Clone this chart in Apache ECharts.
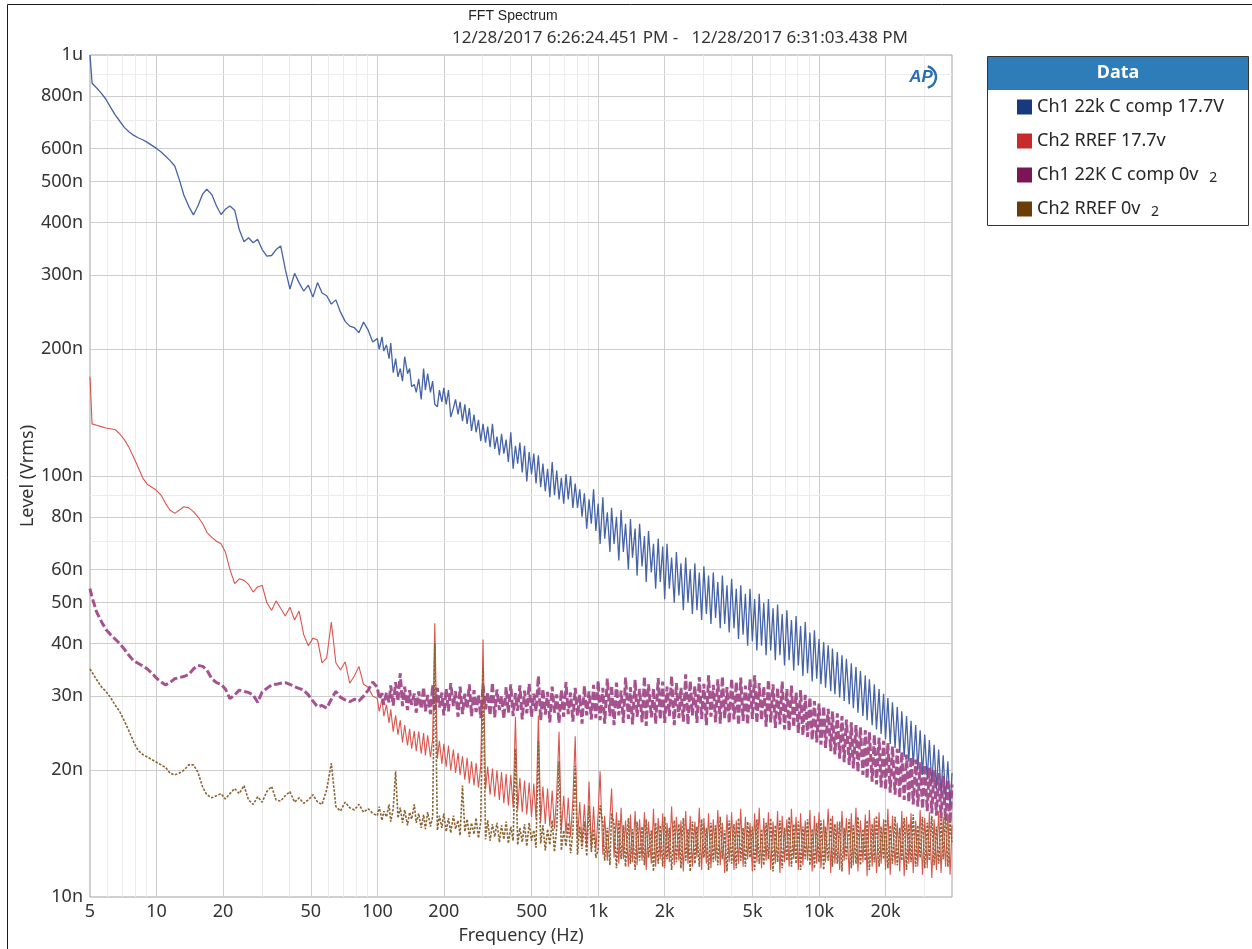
<!DOCTYPE html>
<html><head><meta charset="utf-8">
<script src="https://cdn.jsdelivr.net/npm/echarts@6/dist/echarts.min.js"></script>
<style>html,body{margin:0;padding:0;background:#fff}#c{width:1252px;height:949px}</style>
</head><body><div id="c"></div>
<script>
// ---------- frequency grid (Hz) ----------
const freqLow = [5,5.11,5.36,5.62,5.9,6.19,6.49,6.81,7.15,7.5,7.87,8.25,8.66,9.09,9.53,10,10.5,11,11.5,12.1,12.7,13.3,14,14.7,15.4,16.2,16.9,17.8,18.7,19.6,20.5,21.5,22.6,23.7,24.9,26.1,27.4,28.7,30.1,31.6,33.2,34.8,36.5,38.3,40.2,42.2,44.2,46.4,48.7,51.1,53.6,56.2,59,61.9,64.9,68.1,71.5,75,78.7,82.5,86.6,90.9,95.3];
const freqMid = [100,102,105,107,110,113,115,118,121,124,127,130,133,137,140,143,147,150,154,158,162,165,169,174,178,182,187,191,196,200,205,210,215,221,226,232,237,243,249,255,261,267,274,280,287,294,301,309,316,324,332,340,348,357,365,374,383,392,402,412,422,432,442,453,464,475,487,499,511,523,536,549,562,576,590,604,619,634,649,665,681,698,715,732,750,768,787,806,825,845,866,887,909,931,953,976];
const freqHigh = [1000,1020,1050,1070,1100,1130,1150,1180,1210,1240,1270,1300,1330,1370,1400,1430,1470,1500,1540,1580,1620,1650,1690,1740,1780,1820,1870,1910,1960,2000,2050,2100,2150,2210,2260,2320,2370,2430,2490,2550,2610,2670,2740,2800,2870,2940,3010,3090,3160,3240,3320,3400,3480,3570,3650,3740,3830,3920,4020,4120,4220,4320,4420,4530,4640,4750,4870,4990,5110,5230,5360,5490,5620,5760,5900,6040,6190,6340,6490,6650,6810,6980,7150,7320,7500,7680,7870,8060,8250,8450,8660,8870,9090,9310,9530,9760];
const freqTop = [10000,10200,10500,10700,11000,11300,11500,11800,12100,12400,12700,13000,13300,13700,14000,14300,14700,15000,15400,15800,16200,16500,16900,17400,17800,18200,18700,19100,19600,20000,20500,21000,21500,22100,22600,23200,23700,24300,24900,25500,26100,26700,27400,28000,28700,29400,30100,30900,31600,32400,33200,34000,34800,35700,36500,37400,38300,39200,40000];

// ---------- Ch1 22k C comp 17.7V (nV rms) ----------
const blueLow = [1000,857,835,812,785,752,722,697,673,657,645,636,629,620,610,600,588,575,562,545,505,465,437,417,438,468,480,466,438,418,430,438,428,385,360,368,358,365,345,333,334,345,352,310,278,303,288,275,284,266,288,272,268,256,262,245,233,227,225,219,232,222,208];
const blueMid = [212,200,214,198,205,190,207,176,190,172,180,168,192,175,180,163,165,158,170,152,180,160,175,158,168,148,146,160,150,162,148,160,138,145,152,140,150,135,148,133,145,128,140,127,136,121,133,120,131,117,133,116,124,112,126,113,122,108,127,104,118,107,120,102,118,97,114,101,113,96,112,94,107,92,104,89,108,90,103,88,99,86,101,88,100,84,96,84,93,80,91,75,88,77,93,74];
const blueHigh = [86,69,89,71,82,66,84,69,80,63,83,66,77,60,79,64,75,58,77,61,72,56,74,59,69,54,71,56,68,51,69,54,64,50,66,52,62,48,64,50,60,47,62,48,59,45.5,61,47,58,44.5,59,46,56,43.5,58,44.5,55,42.5,57,43.5,54,41,55,42,52.5,39.5,54,40.5,51,38.5,52.5,39.5,50,37.5,51,38.5,48.5,36.5,49.5,37.5,47,35.5,48,36.5,45.5,34.5,46.5,35.5,44,33.5,45,34,42.5,32.5,43,33];
const blueTop = [41,32,40.3,31.4,39.6,30.8,38.9,30.3,38.2,29.8,37.5,29.2,36.8,28.7,35.9,28.1,35.2,27.4,34.4,26.9,33.6,26.3,32.9,25.6,32,25,31.2,24.4,30.4,23.7,29.7,23.1,29,22.6,28.3,22,27.6,21.5,26.9,21,26.2,20.5,25.6,20,24.9,19.5,24.3,19,23.6,18.5,23,18,22.4,17.5,21.7,17,21,16.4,19.7];

// ---------- Ch2 RREF 17.7v ----------
const redLow = [172,133,132,131,130,129.5,129,126,122,117,111,105,99,95.5,94,92.5,90,86,83,81.5,83,84.5,84,82.3,80,77,73.5,71.5,70,69,66,60,55.5,57,56.5,55.3,53,54.5,55,50,48,50.5,48.5,46.5,48.8,45.5,47.8,42,39.5,41.2,40.8,36,37,45,36,34.6,36.2,32.2,33.5,35.3,32,31.5,30];
const redMid = [29.6,27.6,29.5,26.9,28.6,25.9,27.9,24.7,27,24.3,26.3,23.3,25.6,22.9,25.1,22.5,24.8,22.2,24.7,21.9,24.5,21.7,24.2,21.5,23.7,44.7,21.3,23.5,20.7,23.1,20.4,22.9,20,22.4,19.7,22,19.5,21.6,19,21.4,18.6,21,18.4,20.8,18.2,20.5,40.9,18,20.4,17.5,20.2,17.3,20,17,19.8,16.7,19.6,16.5,19.5,16.3,26.8,16.1,19.2,15.9,18.9,15.7,18.7,15.5,18.6,15.3,27,15.1,18.3,14.9,18.1,14.7,17.9,14.5,17.6,24.7,14.3,17.4,14.1,17.2,13.9,17,24.1,13.7,16.8,13.4,16.6,13.2,18.8,13,16.4,12.9];
const redHigh = [15.8,19.9,12.6,15.6,12.2,15.4,18.1,12.4,15.9,12,16.3,12.3,15.2,11.8,15.7,12.1,16,11.9,15.3,12.2,15.9,11.6,15.1,12,16.2,11.8,15.4,12.3,15.8,11.7,15,12.1,16.4,11.9,15.5,12.2,15.2,11.5,16,12,15.6,11.8,15.1,12.4,16.3,11.6,15.4,12,15.8,11.7,15.3,12.2,16.1,11.9,15,11.4,15.7,12.1,15.9,11.6,15.2,12,16.2,11.8,15.5,12.3,15,11.5,15.8,12.1,16.3,11.7,15.4,12.2,15.9,11.6,15.1,12,16,11.4,15.6,12.1,15.3,11.8,16.2,12.3,15.5,11.6,15.8,11.9,15.2,12.2,16.1,11.5,15.6,12];
const redTop = [15.9,11.7,15.3,12.1,16.2,11.4,15.6,12,15.1,11.6,16,12.2,15.4,11.3,15.8,11.9,16.3,11.5,15.2,12.1,15.7,11.2,16.1,11.8,15.4,11.4,15.9,12,15.3,11.6,16.2,11.3,15.6,11.9,15,11.5,16,11.2,15.5,12,15.8,11.4,15.2,11.8,16.1,11.3,15.4,11.7,15.9,11.1,15.3,11.6,16,11.4,15.5,11.8,15.8,11.3,14.8];

// ---------- Ch1 22K C comp 0v (2) ----------
const purpleLow = [54,51.5,47.5,45.2,43.2,42,41,40,38.8,37.5,36.4,35.9,35.4,34.8,34,33.1,32.4,31.9,32.3,33,33.2,33.4,33.8,34.8,35.5,35.3,34.6,33,32.3,32,31.2,29.6,30.2,31,30.8,30.6,30.2,29,30.7,31.3,31.9,32,32.2,32.3,32,31.6,31.3,31,30.2,29.2,28.3,28.5,28.1,29.5,30.8,29.8,29.4,29.1,29.5,29.2,30,31,32.4];
const purpleMid = [31.5,29.5,30.5,28.6,30.6,29,31.8,28.5,32.4,29.2,34,28.4,31.6,27.8,31,28.6,30.4,27.4,30.8,28,31.5,27.6,30.2,27.2,31.9,27.8,31.4,28.2,30.6,27,31.2,27.6,32.2,28.4,30.8,26.8,31.6,27.2,30.4,28,32,26.9,31,27.5,30.2,26.6,31.8,27.9,30.6,27,32.3,26.7,31.1,27.8,30,26.5,31.5,27.4,32,26.9,30.5,27.7,31.8,26.4,30.9,27.3,32.1,26.8,30.4,27.6,33.5,26.3,31.2,27.1,30.7,26,31.6,27.4,30.3,25.9,31,26.8,32.4,27.2,30.6,26.1,31.4,26.9,30.2,25.8,31.7,27,30.8,26.4,31.9,26.6];
const purpleHigh = [32.6,26.3,31.4,25.8,33,26.9,31.8,25.6,32.3,27,30.9,25.9,33.2,26.5,31.5,25.7,32.8,26.8,31.2,26,33.4,25.5,32,26.7,31.3,25.8,33.1,26.4,32.5,25.9,31.6,26.9,33.5,25.6,32.2,26.6,31.4,26.1,33.8,25.7,32.6,27,31.7,25.9,33.3,26.5,32.1,25.6,33.6,26.8,31.9,26,32.9,25.8,33.4,26.6,31.5,25.9,33,26.4,32.4,25.6,33.2,26.2,31.8,25.7,32.9,26.5,33.6,25.9,32.2,26.3,31.6,25.4,32.8,26,32,25.2,31.4,25.7,32.5,25,31.2,24.8,31.8,25.3,30.6,24.5,31,24.2,30.2,24,29.8,23.6,29.2,23.3];
const purpleTop = [28.8,23,28.4,22.6,28,22.2,27.6,21.8,27.3,21.3,26.9,20.9,26.4,20.6,26,20.2,25.6,19.8,25.3,19.5,24.9,19.1,24.6,18.8,24.3,18.5,23.9,18.2,23.5,18,23.2,17.7,22.8,17.5,22.5,17.2,22.1,17,21.8,16.8,21.5,16.6,21.2,16.4,20.9,16.2,20.6,16,20.3,15.8,20,15.6,19.7,15.4,19.4,15.2,19,15,18.5];

// ---------- Ch2 RREF 0v (2) ----------
const brownLow = [34.8,34.2,32.8,31.6,30.8,29.8,28.6,27.6,26.2,24.8,23.4,22.3,21.8,21.5,21.2,20.9,20.6,20.3,19.7,19.5,19.7,20,20.6,20.6,19.8,18.2,17.5,17.2,17.4,17.6,17.1,17.6,18.1,17.6,18.4,17,16.6,17.3,16.8,17.8,18.3,17,16.9,17.4,17.8,16.8,17.2,16.7,17,17.5,16.8,16.6,18,20.8,16.4,16,16.8,16.3,16.1,16.6,15.9,16.2,15.8];
const brownMid = [15.6,16.4,15.2,16,15.5,16.6,15.1,16.2,19.9,15.4,16.3,15,16.1,14.8,15.9,15.3,16.6,15,15.8,14.6,15.7,14.5,15.9,14.7,15.5,40,14.4,15.6,14.6,15.8,14.3,15.4,14.2,15.6,14.5,15.2,14,18.4,14.3,15.3,13.9,15,14.1,15.4,13.8,15.1,35,13.7,15.2,13.6,14.9,13.9,15,13.5,14.8,13.7,15.1,13.4,14.7,13.6,22.5,13.3,14.6,13.5,14.9,13.2,15,13.6,14.4,13.1,23.5,13.4,14.8,12.9,14.5,13.3,15.2,12.8,14.6,21,12.9,14.4,13.2,15,12.7,14.3,20.5,12.6,14.7,13,15.1,12.5,16.5,12.8,14.5,12.4];
const brownHigh = [13,16.5,15,12.2,14.6,11.9,15.8,14.9,11.7,15.2,12.3,14.8,11.8,15.4,12,14.5,11.6,15.1,12.2,14.7,11.9,15.3,12.4,14.4,11.5,15,12,14.8,11.8,15.5,12.3,14.6,11.6,15.2,12.1,14.9,11.7,15.4,12.2,14.5,11.5,15.1,12,14.7,11.8,15.3,12.4,14.6,11.6,15,12.1,14.8,11.9,15.5,12.3,14.4,11.5,15.2,12,14.9,11.7,15.4,12.2,14.6,11.8,15.1,12.4,14.7,11.6,15.3,12,14.5,11.9,15,12.3,15.4,11.5,14.8,12.1,15.2,11.7,14.6,12.2,15.5,11.8,14.9,12,15.1,11.6,14.7,12.3,15.3,11.9,14.5,11.7,15];
const brownTop = [12.1,15.2,11.6,14.7,12.2,15.4,11.8,14.9,12,15.1,11.5,14.6,12.3,15.3,11.7,14.8,12,15.5,11.9,14.5,12.2,15.2,11.6,14.9,12.1,15.6,11.8,14.7,12.3,15.3,11.7,14.8,12,15.5,11.9,14.6,12.2,15.4,11.6,14.9,12.1,15.7,11.8,14.8,12.4,15.5,11.7,15,12.2,15.6,11.9,14.7,12,15.4,12.3,15.8,11.8,15.1,13.5];

// ---------- axis ticks / labels ----------
const xTickValues = [5,10,20,50,100,200,500,1000,2000,5000,10000,20000];
const xTickLabels = ['5','10','20','50','100','200','500','1k','2k','5k','10k','20k'];
const xMinorGrid = [6,7,8,9,30,40,60,70,80,90,300,400,600,700,800,900,3000,4000,6000,7000,8000,9000,30000];
const yTickValues = [10,20,30,40,50,60,80,100,200,300,400,500,600,800,1000];
const yTickLabels = ['10n','20n','30n','40n','50n','60n','80n','100n','200n','300n','400n','500n','600n','800n','1u'];
const yMinorGrid = [70,90,700,900];

const seriesNames = ['Ch1 22k C comp 17.7V','Ch2 RREF 17.7v','Ch1 22K C comp 0v','Ch2 RREF 0v'];

// ---------- build ----------
const freqs = freqLow.concat(freqMid, freqHigh, freqTop);
function pairs(a,b,c,d){
  const v = a.concat(b,c,d);
  if (v.length !== freqs.length) throw new Error('length mismatch ' + v.length + ' vs ' + freqs.length + ' parts ' + [a.length,b.length,c.length,d.length]);
  return freqs.map((f,i)=>[f, v[i]]);
}
const FONT = '"Noto Sans", "Open Sans", sans-serif';
const X0 = 5, X1 = 40000, Y0 = 10, Y1 = 1000;
const MAJOR = '#cdcdcd', MINOR = '#ececec';
const marks = [];
xTickValues.forEach((v,i)=>{
  marks.push([{coord:[v,Y0], lineStyle:{color: v===X0 ? 'rgba(0,0,0,0)' : MAJOR, width:1, type:'solid'},
    label:{show:true, position:'start', distance:6, formatter:xTickLabels[i], fontSize:18, color:'#333', fontFamily:FONT}},
    {coord:[v,Y1]}]);
});
xMinorGrid.forEach(v=>{
  marks.push([{coord:[v,Y0], lineStyle:{color:MINOR, width:1, type:'solid'}, label:{show:false}}, {coord:[v,Y1]}]);
});
yTickValues.forEach((v,i)=>{
  marks.push([{coord:[X0,v], lineStyle:{color: (v===Y0||v===Y1) ? 'rgba(0,0,0,0)' : MAJOR, width:1, type:'solid'},
    label:{show:true, position:'start', distance:7, formatter:yTickLabels[i], fontSize:18, color:'#333', fontFamily:FONT}},
    {coord:[X1,v]}]);
});
yMinorGrid.forEach(v=>{
  marks.push([{coord:[X0,v], lineStyle:{color:MINOR, width:1, type:'solid'}, label:{show:false}}, {coord:[X1,v]}]);
});

const chart = echarts.init(document.getElementById('c'), null, {renderer:'canvas'});
chart.setOption({
  animation:false,
  backgroundColor:'#fff',
  grid:{left:90, top:55, width:862, height:842, containLabel:false, outerBoundsMode:'none',
        show:true, borderColor:'#a2a2a2', borderWidth:1, backgroundColor:'#fff'},
  xAxis:{type:'log', logBase:10, min:X0, max:X1,
    axisLine:{show:false}, axisTick:{show:false}, axisLabel:{show:false}, splitLine:{show:false}, minorSplitLine:{show:false},
    name:'Frequency (Hz)', nameLocation:'middle', nameGap:30,
    nameTextStyle:{fontSize:18, color:'#333', fontFamily:FONT}},
  yAxis:{type:'log', logBase:10, min:Y0, max:Y1,
    axisLine:{show:false}, axisTick:{show:false}, axisLabel:{show:false}, splitLine:{show:false},
    name:'Level (Vrms)', nameLocation:'middle', nameGap:53, nameRotate:90,
    nameTextStyle:{fontSize:18, color:'#333', fontFamily:FONT}},
  legend:{data:seriesNames, orient:'vertical', left:1017, top:97, padding:0,
    itemWidth:15, itemHeight:15, itemGap:14, icon:'rect', selectedMode:false, z:20,
    textStyle:{fontFamily:FONT, fontSize:18, color:'#262626', lineHeight:20,
      rich:{s:{fontFamily:FONT, fontSize:14, color:'#262626', lineHeight:9, verticalAlign:'bottom', padding:[0,0,0,6]}}},
    formatter:function(n){ return /0v$/.test(n) ? n + ' {s|2}' : n; }},
  graphic:[
    {type:'rect', z:-5, silent:true, shape:{x:7.5, y:4.5, width:1260, height:960}, style:{fill:'none', stroke:'#1a1a1a', lineWidth:1}},
    {type:'text', z:5, x:513, y:16, style:{text:'FFT Spectrum', font:'14px "Liberation Sans", Arial, sans-serif', fill:'#222', align:'center', verticalAlign:'middle'}},
    {type:'text', z:5, x:680, y:38, style:{text:'12/28/2017 6:26:24.451 PM -   12/28/2017 6:31:03.438 PM', font:'17px "Noto Sans", sans-serif', fill:'#333', align:'center', verticalAlign:'middle'}},
    {type:'rect', z:5, shape:{x:987.5, y:56.5, width:261, height:169}, style:{fill:'#fff', stroke:'#333', lineWidth:1}},
    {type:'rect', z:6, shape:{x:988, y:57, width:260, height:33}, style:{fill:'#2f7db8'}},
    {type:'text', z:7, x:1118, y:73, style:{text:'Data', font:'bold 18px "Noto Sans", sans-serif', fill:'#fff', align:'center', verticalAlign:'middle'}},
    {type:'text', z:7, x:921, y:77, style:{text:'AP', font:'italic bold 17px "Liberation Sans", Arial, sans-serif', fill:'#2a6cb5', align:'center', verticalAlign:'middle'}},
    {type:'arc', z:7, shape:{cx:925, cy:77, r:11, startAngle:-Math.PI*0.42, endAngle:Math.PI*0.42}, style:{fill:'none', stroke:'#2a6cb5', lineWidth:2.4}}
  ],
  series:[
    {name:'_grid', type:'line', data:[], z:1, silent:true, clip:false,
      markLine:{silent:true, animation:false, symbol:['none','none'], z:1, data:marks}},
    {name:seriesNames[0], type:'line', z:3, showSymbol:false, symbol:'none', silent:true, clip:true,
      data:pairs(blueLow,blueMid,blueHigh,blueTop),
      itemStyle:{color:'#173a7e'}, lineStyle:{color:'#4563a6', width:1.3}},
    {name:seriesNames[1], type:'line', z:4, showSymbol:false, symbol:'none', silent:true, clip:true,
      data:pairs(redLow,redMid,redHigh,redTop),
      itemStyle:{color:'#c62a2a'}, lineStyle:{color:'#dc544d', width:1.1}},
    {name:seriesNames[2], type:'line', z:5, showSymbol:false, symbol:'none', silent:true, clip:true,
      data:pairs(purpleLow,purpleMid,purpleHigh,purpleTop),
      itemStyle:{color:'#7b1557'}, lineStyle:{color:'#9c3f82', width:3, type:[8,3], opacity:0.9}},
    {name:seriesNames[3], type:'line', z:6, showSymbol:false, symbol:'none', silent:true, clip:true,
      data:pairs(brownLow,brownMid,brownHigh,brownTop),
      itemStyle:{color:'#6a3c08'}, lineStyle:{color:'#8a6433', width:1.6, type:[2.5,1.5]}}
  ]
});
</script></body></html>
